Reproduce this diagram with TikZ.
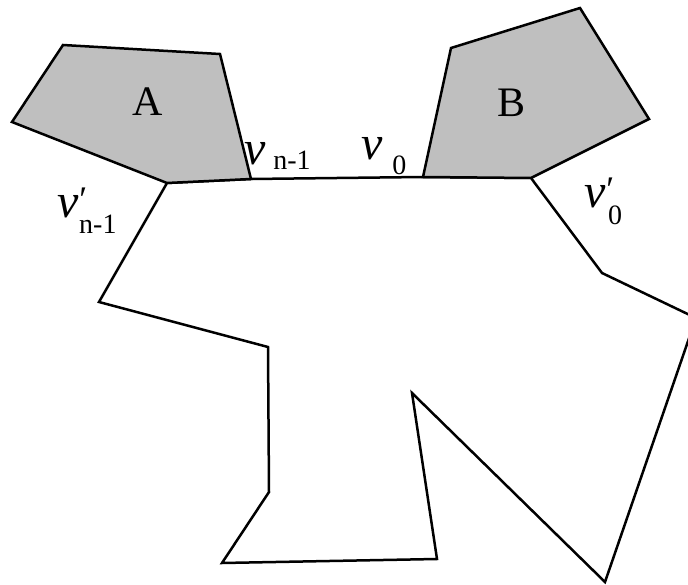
\documentclass[tikz,border=0pt]{standalone}
\usepackage{fontspec}
\setmainfont{Liberation Serif}
\newcommand{\bignu}{{\fontsize{48}{48}\selectfont\itshape ν}}
\newcommand{\bignup}{{\fontsize{48}{48}\selectfont\itshape ν\hspace{1pt}\raisebox{6pt}{\fontsize{36}{36}\selectfont\upshape ′}}}
\newcommand{\subtxt}[2]{\raisebox{#1}{\fontsize{28}{28}\selectfont #2}}
\begin{document}
\begin{tikzpicture}[x=1pt,y=-1pt,
  edge/.style={line width=2.5pt, line join=miter},
  shaded/.style={edge, fill=gray!50},
  lbl/.style={anchor=base west, inner sep=0pt, outer sep=0pt},
  letter/.style={font=\fontsize{42}{42}\selectfont, inner sep=0pt}]
\useasboundingbox (0,0) rectangle (688,585);
\begin{scope}
\clip (0,0) rectangle (688,585);
% main polygon
\draw[edge] (167,183) -- (251,179) -- (423,177) -- (531,178) -- (602,273)
  -- (696,318) -- (605,582) -- (412,393) -- (437,559) -- (222,563)
  -- (269,492) -- (268,347) -- (99,302) -- cycle;
\end{scope}
% polygon A
\draw[shaded] (63,45) -- (220,54) -- (251,179) -- (167,183) -- (12,122) -- cycle;
% polygon B
\draw[shaded] (451,48) -- (580,8) -- (649,119) -- (531,178) -- (423,177) -- cycle;
\node[letter] (A) at (148,102) {A};
\node[letter] (B) at (512,103) {B};
% labels
\node[lbl] (vn1) at (244,165) {\bignu\hspace{8pt}\subtxt{-5pt}{n-1}};
\node[lbl] (v0) at (361,160) {\bignu\hspace{10pt}\subtxt{-15pt}{0}};
\node[lbl] (vpn1) at (57,218) {\bignup\hspace{-8pt}\subtxt{-16pt}{n-1}};
\node[lbl] (vp0) at (584,208) {\bignup\hspace{-6pt}\subtxt{-17pt}{0}};
\end{tikzpicture}
\end{document}
